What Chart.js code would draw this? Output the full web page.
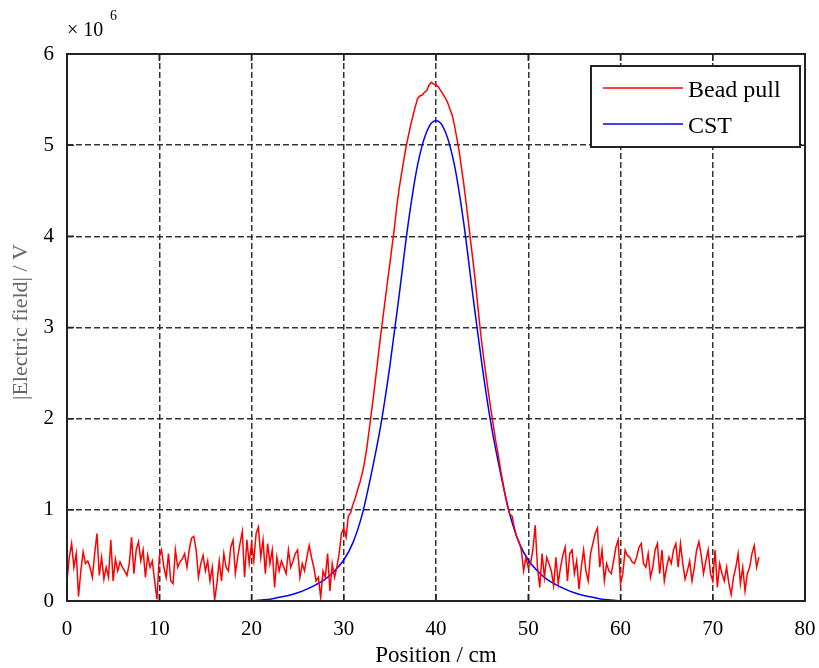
<!DOCTYPE html>
<html>
<head>
<meta charset="utf-8">
<script src="https://cdn.jsdelivr.net/npm/chart.js@4.4.0/dist/chart.umd.min.js"></script>
<style>
  body { margin: 0; background: #fff; }
</style>
</head>
<body>
<canvas id="field" width="819" height="668"></canvas>
<script>
// field values in units of 1e6 V
const xTicks = [0, 10, 20, 30, 40, 50, 60, 70, 80]
const yTicks = [0, 1, 2, 3, 4, 5, 6]

// bead pull measurement, sampled every 0.25 cm from 0 cm
const beadStart = 0
const beadStep = 0.25
const beadField = [
  0.22, 0.48, 0.63, 0.37,
  0.52, 0.05, 0.33, 0.54,
  0.41, 0.44, 0.37, 0.26,
  0.52, 0.74, 0.28, 0.48,
  0.24, 0.37, 0.26, 0.67,
  0.22, 0.46, 0.33, 0.43,
  0.37, 0.33, 0.28, 0.41,
  0.70, 0.30, 0.56, 0.65,
  0.44, 0.56, 0.26, 0.50,
  0.37, 0.44, 0.22, 0.02,
  0.48, 0.56, 0.37, 0.26,
  0.52, 0.22, 0.19, 0.56,
  0.37, 0.43, 0.46, 0.52,
  0.37, 0.56, 0.69, 0.71,
  0.56, 0.26, 0.41, 0.50,
  0.33, 0.44, 0.22, 0.37,
  0.01, 0.19, 0.44, 0.22,
  0.52, 0.37, 0.33, 0.59,
  0.67, 0.30, 0.48, 0.63,
  0.76, 0.26, 0.67, 0.41,
  0.63, 0.44, 0.74, 0.81,
  0.48, 0.67, 0.30, 0.63,
  0.41, 0.56, 0.15, 0.48,
  0.33, 0.44, 0.37, 0.30,
  0.56, 0.37, 0.44, 0.52,
  0.56, 0.26, 0.41, 0.33,
  0.48, 0.61, 0.48, 0.37,
  0.22, 0.26, 0.04, 0.33,
  0.26, 0.52, 0.11, 0.41,
  0.26, 0.37, 0.52, 0.74,
  0.80, 0.70, 0.93, 0.97,
  1.06, 1.13, 1.22, 1.30,
  1.40, 1.52, 1.68, 1.87,
  2.07, 2.27, 2.48, 2.70,
  2.91, 3.11, 3.31, 3.51,
  3.70, 3.90, 4.10, 4.33,
  4.52, 4.68, 4.83, 4.98,
  5.10, 5.22, 5.32, 5.42,
  5.51, 5.54, 5.55, 5.58,
  5.60, 5.66, 5.69, 5.67,
  5.66, 5.64, 5.60, 5.56,
  5.52, 5.47, 5.40, 5.33,
  5.22, 5.08, 4.94, 4.76,
  4.58, 4.38, 4.17, 3.95,
  3.74, 3.52, 3.27, 3.02,
  2.80, 2.60, 2.42, 2.24,
  2.07, 1.90, 1.74, 1.60,
  1.44, 1.30, 1.16, 1.04,
  0.95, 0.93, 0.80, 0.70,
  0.65, 0.56, 0.33, 0.48,
  0.37, 0.41, 0.56, 0.83,
  0.37, 0.15, 0.52, 0.26,
  0.48, 0.41, 0.33, 0.17,
  0.48, 0.19, 0.37, 0.50,
  0.59, 0.22, 0.52, 0.56,
  0.30, 0.44, 0.13, 0.37,
  0.56, 0.33, 0.22, 0.52,
  0.63, 0.74, 0.80, 0.37,
  0.56, 0.22, 0.41, 0.33,
  0.30, 0.44, 0.59, 0.67,
  0.19, 0.30, 0.56, 0.50,
  0.48, 0.43, 0.41, 0.48,
  0.59, 0.63, 0.41, 0.37,
  0.52, 0.26, 0.37, 0.56,
  0.63, 0.30, 0.56, 0.22,
  0.37, 0.48, 0.41, 0.56,
  0.63, 0.37, 0.63, 0.41,
  0.24, 0.33, 0.44, 0.22,
  0.37, 0.56, 0.65, 0.50,
  0.30, 0.44, 0.56, 0.30,
  0.22, 0.56, 0.15, 0.41,
  0.30, 0.22, 0.37, 0.19,
  0.07, 0.26, 0.37, 0.52,
  0.19, 0.37, 0.11, 0.30,
  0.37, 0.52, 0.61, 0.37,
  0.48
]

// CST simulation
const cstPos = [20, 21, 22, 23, 24, 25, 26, 27, 28, 29, 30, 31, 32, 33, 34, 35, 36, 37, 38, 39, 40,
  41, 42, 43, 44, 45, 46, 47, 48, 49, 50, 51, 52, 53, 54, 55, 56, 57, 58, 59, 60]
const cstField = [0.00, 0.01, 0.02, 0.04, 0.06, 0.09, 0.13, 0.18, 0.24, 0.33, 0.45, 0.64, 0.95, 1.40, 1.92, 2.58, 3.35, 4.15, 4.78, 5.15, 5.27,
  5.15, 4.78, 4.15, 3.35, 2.58, 1.92, 1.40, 0.95, 0.64, 0.45, 0.33, 0.24, 0.18, 0.13, 0.09, 0.06, 0.04, 0.02, 0.01, 0.00]

const serif = 'Liberation Serif'

const beadData = beadField.map((v, i) => ({x: beadStart + i * beadStep, y: v}))
const cstData = cstField.map((v, i) => ({x: cstPos[i], y: v}))

const framePlugin = {
  id: 'frame',
  afterDraw(chart) {
    const {ctx, chartArea: a, scales} = chart
    ctx.save()
    // box
    ctx.strokeStyle = '#222'
    ctx.lineWidth = 2
    ctx.strokeRect(a.left, a.top, a.right - a.left, a.bottom - a.top)
    // inward ticks on all sides
    ctx.lineWidth = 1.5
    ctx.beginPath()
    xTicks.forEach(t => {
      const px = scales.x.getPixelForValue(t)
      ctx.moveTo(px, a.bottom); ctx.lineTo(px, a.bottom - 7)
      ctx.moveTo(px, a.top); ctx.lineTo(px, a.top + 7)
    })
    yTicks.forEach(t => {
      const py = scales.y.getPixelForValue(t)
      ctx.moveTo(a.left, py); ctx.lineTo(a.left + 7, py)
      ctx.moveTo(a.right, py); ctx.lineTo(a.right - 7, py)
    })
    ctx.stroke()

    // legend
    const lx = 591, ly = 66, lw = 209, lh = 81
    ctx.fillStyle = '#fff'
    ctx.fillRect(lx, ly, lw, lh)
    ctx.lineWidth = 2
    ctx.strokeStyle = '#222'
    ctx.strokeRect(lx, ly, lw, lh)
    const rows = [88, 124]
    chart.data.datasets.forEach((ds, i) => {
      ctx.strokeStyle = ds.borderColor
      ctx.lineWidth = 1.5
      ctx.beginPath()
      ctx.moveTo(603, rows[i]); ctx.lineTo(683, rows[i])
      ctx.stroke()
      ctx.fillStyle = '#000'
      ctx.font = '24px "' + serif + '"'
      ctx.textBaseline = 'middle'
      ctx.textAlign = 'left'
      ctx.fillText(ds.label, 688, rows[i] + 3)
    })

    // axis titles
    ctx.fillStyle = '#000'
    ctx.font = '23px "' + serif + '"'
    ctx.textAlign = 'center'
    ctx.textBaseline = 'middle'
    ctx.fillText('Position / cm', (a.left + a.right) / 2, 656)
    ctx.save()
    ctx.translate(21, 322)
    ctx.rotate(-Math.PI / 2)
    ctx.fillStyle = '#666'
    ctx.font = '22px "' + serif + '"'
    ctx.fillText('|Electric field| / V', 0, 0)
    ctx.restore()

    // exponent
    ctx.fillStyle = '#000'
    ctx.textAlign = 'left'
    ctx.font = '20px "' + serif + '"'
    ctx.fillText('\u00d7 10', 67, 31)
    ctx.font = '14px "' + serif + '"'
    ctx.fillText('6', 110, 16)
    ctx.restore()
  }
}

const ctx = document.querySelector('#field')
const fieldChart = new Chart(ctx, {
  type: 'line',
  data: {
    datasets: [
      {
        label: 'Bead pull',
        data: beadData,
        borderColor: '#ff0000',
        borderWidth: 1.5,
        pointRadius: 0,
        tension: 0
      },
      {
        label: 'CST',
        data: cstData,
        borderColor: '#0000ff',
        borderWidth: 1.5,
        pointRadius: 0,
        cubicInterpolationMode: 'monotone'
      }
    ]
  },
  options: {
    responsive: false,
    animation: false,
    devicePixelRatio: 1,
    layout: {padding: {left: 0, right: 14, top: 54, bottom: 0}},
    plugins: {
      legend: {display: false},
      tooltip: {enabled: false}
    },
    scales: {
      x: {
        type: 'linear',
        min: 0,
        max: 80,
        afterBuildTicks: s => { s.ticks = xTicks.map(v => ({value: v})) },
        afterFit: s => { s.height = 67; s.paddingLeft = 0; s.paddingRight = 0 },
        grid: {color: '#333', lineWidth: 1.5, drawTicks: false},
        border: {display: false, dash: [6, 3]},
        ticks: {color: '#000', padding: 16, font: {family: serif, size: 21}}
      },
      y: {
        type: 'linear',
        min: 0,
        max: 6,
        afterBuildTicks: s => { s.ticks = yTicks.map(v => ({value: v})) },
        afterFit: s => { s.width = 67; s.paddingTop = 0; s.paddingBottom = 0 },
        grid: {color: '#333', lineWidth: 1.5, drawTicks: false},
        border: {display: false, dash: [6, 3]},
        ticks: {color: '#000', padding: 13, font: {family: serif, size: 21}}
      }
    }
  },
  plugins: [framePlugin]
})
</script>
</body>
</html>
